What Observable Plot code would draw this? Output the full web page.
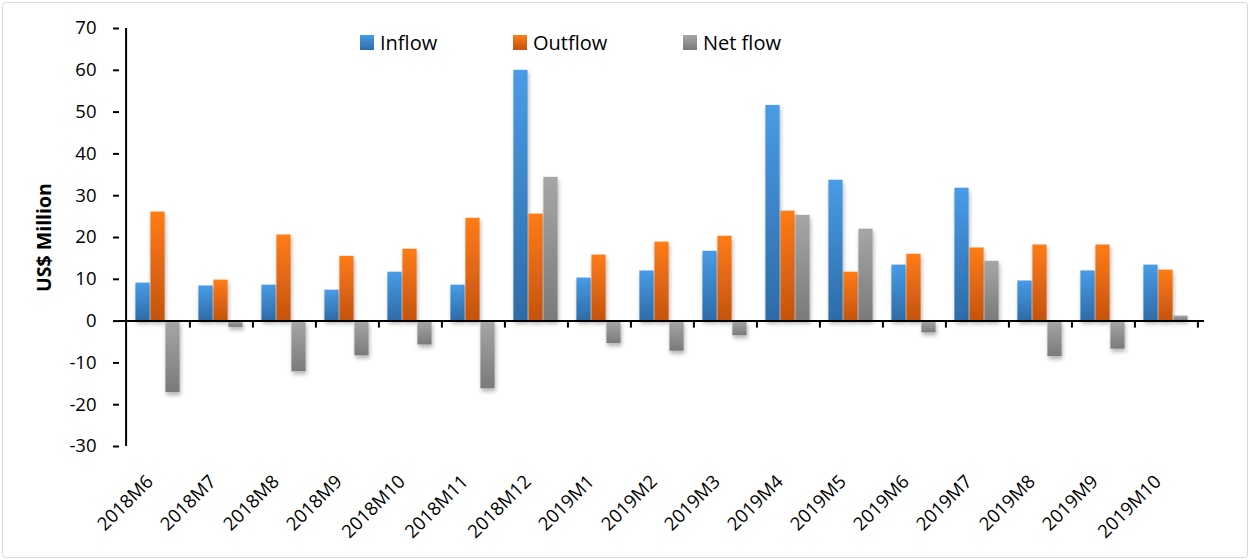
<!DOCTYPE html>
<html>
<head>
<meta charset="utf-8">
<script src="https://cdn.jsdelivr.net/npm/d3@7"></script>
<script src="https://cdn.jsdelivr.net/npm/@observablehq/plot@0.6"></script>
<style>
  html, body { margin: 0; padding: 0; background: #fff; }
  #wrap { position: relative; width: 1250px; height: 560px; overflow: hidden; font-family: "Open Sans", sans-serif; }
  #border { position: absolute; left: 2px; top: 2px; right: 2px; bottom: 2px; border: 1.5px solid #d9d9d9; border-radius: 4px; pointer-events: none; }
  #legend { position: absolute; top: 29px; left: 0; width: 1250px; height: 30px; font-size: 20px; color: #000; }
  .item { position: absolute; display: flex; align-items: center; }
  .sw { width: 14px; height: 15px; margin-right: 6px; }
</style>
</head>
<body>
<div id="wrap">
  <div id="chart"></div>
  <div id="legend"></div>
  <div id="border"></div>
</div>
<script>
const categories = ["2018M6","2018M7","2018M8","2018M9","2018M10","2018M11","2018M12","2019M1","2019M2","2019M3","2019M4","2019M5","2019M6","2019M7","2019M8","2019M9","2019M10"];
const seriesNames = ["Inflow", "Outflow", "Net flow"];
const inflow  = [9.1, 8.4, 8.6, 7.4, 11.7, 8.6, 60.0, 10.3, 12.0, 16.7, 51.6, 33.7, 13.4, 31.8, 9.6, 12.0, 13.4];
const outflow = [26.1, 9.8, 20.6, 15.5, 17.2, 24.6, 25.6, 15.8, 18.9, 20.3, 26.3, 11.7, 16.0, 17.5, 18.2, 18.2, 12.2];
const netflow = [-17.1, -1.5, -12.1, -8.3, -5.7, -16.2, 34.4, -5.4, -7.2, -3.5, 25.3, 22.0, -2.8, 14.3, -8.5, -6.7, 1.2];
const yTicks = [-30, -20, -10, 0, 10, 20, 30, 40, 50, 60, 70];
const yLabel = "US$ Million";

const W = 1250, H = 560;
const mL = 119, mR = 46, mT = 28, mB = 114;
const bw = (W - mL - mR) / categories.length;
const barW = 15;
const g0 = (bw - 3 * barW) / 2;

const seriesValues = [inflow, outflow, netflow];
const gradIds = ["gInflow", "gOutflow", "gNet"];
const gradStops = [["#489CE6", "#2E6BA8"], ["#FF7C18", "#C4530F"], ["#A6A6A6", "#7A7A7A"]];

const barMarks = seriesValues.map((vals, s) => {
  const data = categories.map((c, i) => ({cat: c, value: vals[i]}));
  return Plot.barY(data, {
    x: "cat", y: "value",
    fill: `url(#${gradIds[s]})`,
    insetLeft: g0 + s * barW,
    insetRight: bw - g0 - (s + 1) * barW
  });
});

const chart = Plot.plot({
  width: W, height: H,
  marginLeft: mL, marginRight: mR, marginTop: mT, marginBottom: mB,
  style: {fontFamily: "Open Sans, sans-serif", color: "#000", background: "transparent"},
  x: {domain: categories, padding: 0},
  y: {domain: [-30, 70]},
  marks: [
    ...barMarks,
    Plot.ruleY([0], {stroke: "#000", strokeWidth: 2}),
    Plot.ruleX([categories[0]], {stroke: "#000", strokeWidth: 2, dx: -bw / 2}),
    Plot.ruleX(categories, {x: d => d, y1: () => 0, y2: () => 0, insetBottom: -7, dx: bw / 2, stroke: "#000", strokeWidth: 2}),
    Plot.axisY({ticks: yTicks, tickSize: 6, tickPadding: 17, tickFormat: d => String(d), label: null, stroke: "#000", strokeWidth: 2}),
    Plot.axisX({tickSize: 0, tickPadding: 27, tickRotate: -45, label: null}),
    Plot.text([yLabel], {frameAnchor: "left", textAnchor: "middle", rotate: -90, dx: -75, fontWeight: "bold", text: d => d})
  ]
});

// font sizes, label offset, gradients and shadows
const svg = d3.select(chart);
svg.selectAll("text").style("font-size", "18.5px");
svg.selectAll('g[aria-label="text"] text').style("font-size", "19.5px");
svg.select('g[aria-label="x-axis tick label"]').attr("transform", "translate(24,32.5)");

const defs = svg.insert("defs", ":first-child");
gradIds.forEach((id, s) => {
  const lg = defs.append("linearGradient").attr("id", id).attr("x1", 0).attr("y1", 0).attr("x2", 0).attr("y2", 1);
  lg.append("stop").attr("offset", "0%").attr("stop-color", gradStops[s][0]);
  lg.append("stop").attr("offset", "100%").attr("stop-color", gradStops[s][1]);
});
const f = defs.append("filter").attr("id", "shadow").attr("x", "-30%").attr("y", "-10%").attr("width", "160%").attr("height", "130%");
f.append("feDropShadow").attr("dx", 1).attr("dy", 3).attr("stdDeviation", 2).attr("flood-color", "#000").attr("flood-opacity", 0.3);
svg.selectAll('g[aria-label="bar"]').attr("filter", "url(#shadow)");

document.getElementById("chart").appendChild(chart);

// legend
const legend = document.getElementById("legend");
const legendX = [360, 513, 683];
seriesNames.forEach((name, s) => {
  const item = document.createElement("div");
  item.className = "item";
  item.style.left = legendX[s] + "px";
  const sw = document.createElement("div");
  sw.className = "sw";
  sw.style.background = `linear-gradient(${gradStops[s][0]}, ${gradStops[s][1]})`;
  const t = document.createElement("span");
  t.textContent = name;
  item.appendChild(sw);
  item.appendChild(t);
  legend.appendChild(item);
});
</script>
</body>
</html>
